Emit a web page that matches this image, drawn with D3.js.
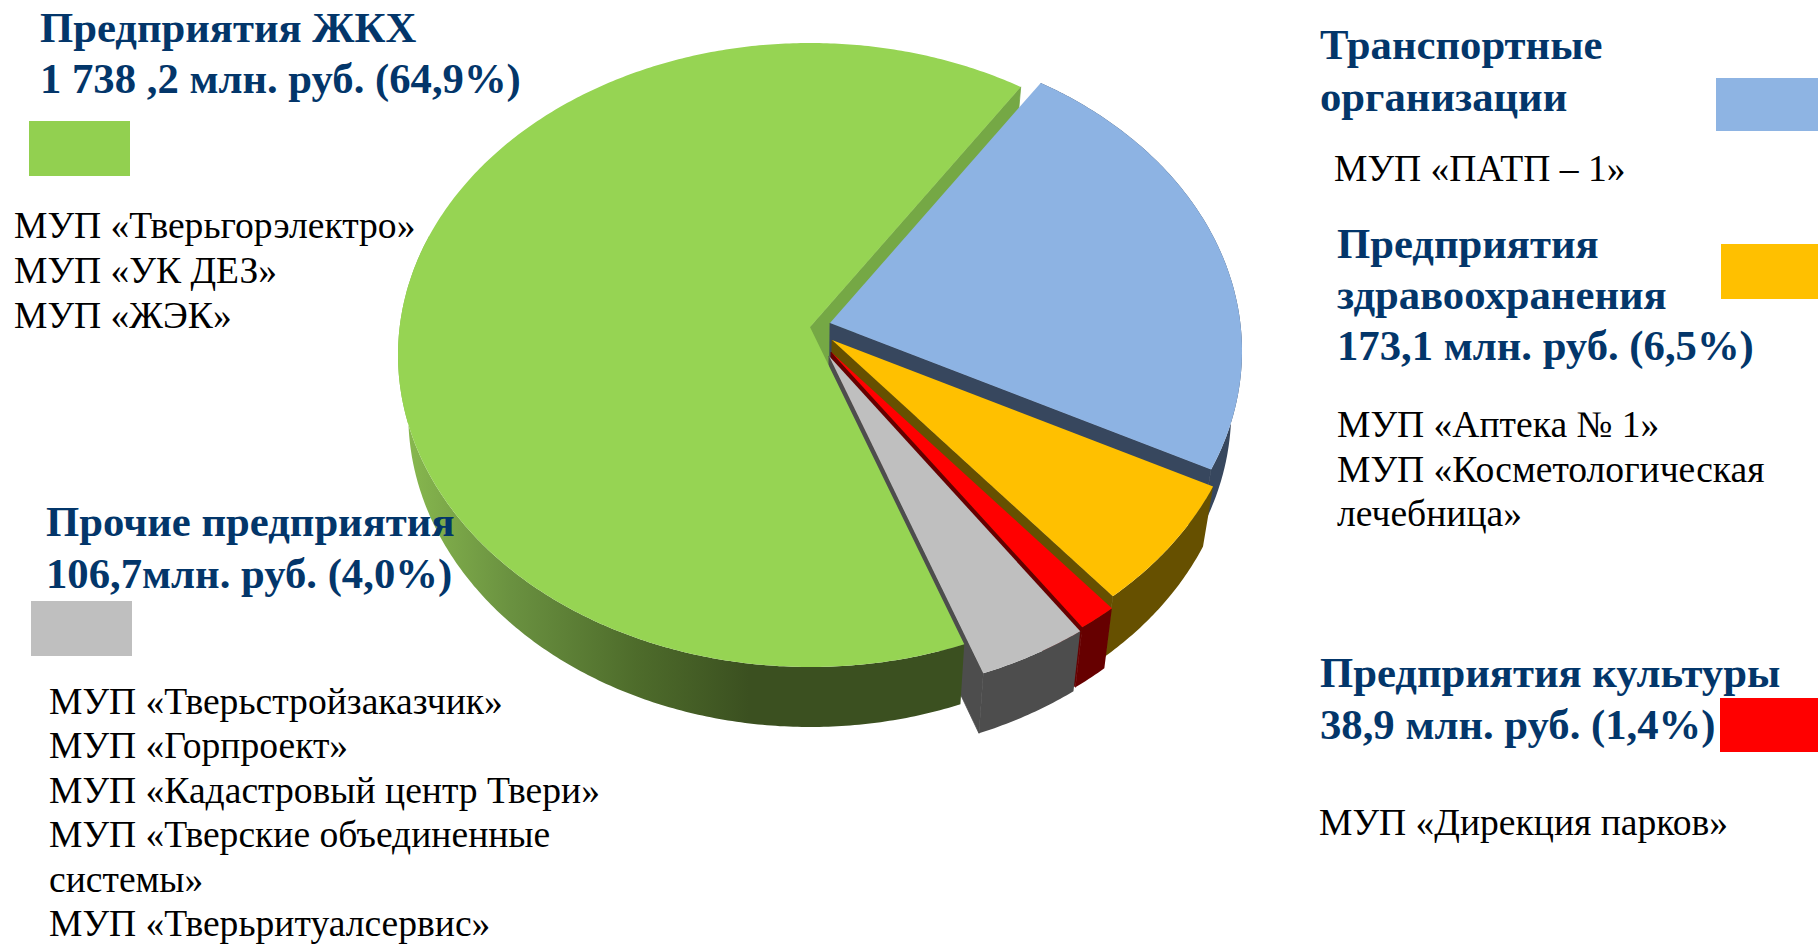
<!DOCTYPE html>
<meta charset="utf-8">
<style>
body { margin: 0; background: #fff; }
text { font-family: "Liberation Serif", serif; }
.head { font-weight: bold; fill: #03366a; font-size: 42.7px; }
.body { fill: #000; font-size: 37.6px; }
</style>
<body>
<script src="https://d3js.org/d3.v7.min.js"></script>
<script>

// shares in percent, read from the labels (transport has no label, it is the rest)
var categories = ["transport", "health", "culture", "other", "housing"];
var shares = [23.2, 6.5, 1.4, 4.0, 64.9];

var headings = [
  ["Предприятия ЖКХ", "1 738 ,2 млн. руб. (64,9%)"],
  ["Транспортные", "организации"],
  ["Предприятия", "здравоохранения", "173,1 млн. руб. (6,5%)"],
  ["Предприятия культуры", "38,9 млн. руб. (1,4%)"],
  ["Прочие предприятия", "106,7млн. руб. (4,0%)"]
];
var members = [
  ["МУП «Тверьгорэлектро»", "МУП «УК ДЕЗ»", "МУП «ЖЭК»"],
  ["МУП «ПАТП – 1»"],
  ["МУП «Аптека № 1»", "МУП «Косметологическая", "лечебница»"],
  ["МУП «Дирекция парков»"],
  ["МУП «Тверьстройзаказчик»", "МУП «Горпроект»", "МУП «Кадастровый центр Твери»",
   "МУП «Тверские объединенные", "системы»", "МУП «Тверьритуалсервис»"]
];

var width = 1818, height = 945;

// pie geometry: ellipse radii, perspective shift of the pie centre, wall depth
var rx = 412, ry = 312, persp = -28 / 312, depth = 60, narrow = 0.975, axisX = 810;
var startDeg = 33.5;

// each slice is pulled out on its own, so it has its own ellipse centre
var sliceLook = {
  transport: {cx: 830, cy: 351, top: "#8db3e3", wall: "#37475e"},
  health:    {cx: 832, cy: 368, top: "#ffc000", wall: "#665000"},
  culture:   {cx: 831, cy: 380, top: "#ff0000", wall: "#660000"},
  other:     {cx: 829, cy: 384, top: "#bfbfbf", wall: "#4d4d4d"},
  housing:   {cx: 810, cy: 355, top: "#96d453", wall: "url(#greenWall)", side: "#75a845"}
};

var headBlocks = [
  {x: 40, y: 42, dy: 51, swatch: [29, 121, 101, 55], color: "#92d050"},
  {x: 1320, y: 59, dy: 52, swatch: [1716, 78, 102, 53], color: "#8eb4e3"},
  {x: 1337, y: 258, dy: 51, swatch: [1721, 244, 97, 55], color: "#ffc000"},
  {x: 1320, y: 687, dy: 52, swatch: [1720, 698, 98, 54], color: "#ff0000"},
  {x: 46, y: 536, dy: 51.5, swatch: [31, 601, 101, 55], color: "#bfbfbf"}
];
var bodyBlocks = [
  {x: 14, y: 238, dy: 45},
  {x: 1334, y: 181, dy: 45},
  {x: 1337, y: 437, dy: 44.5},
  {x: 1319, y: 835, dy: 45},
  {x: 49, y: 714, dy: 44.4}
];

var svg = d3.select("body").append("svg")
    .attr("width", width)
    .attr("height", height);

var defs = svg.append("defs");
var grad = defs.append("linearGradient")
    .attr("id", "greenWall")
    .attr("gradientUnits", "userSpaceOnUse")
    .attr("x1", 398).attr("x2", 964).attr("y1", 0).attr("y2", 0);
[[0, "#8abb50"], [0.2, "#6a9140"], [0.42, "#4e6c2b"], [0.62, "#3b5020"], [1, "#3b5020"]].forEach(function(s) {
  grad.append("stop").attr("offset", s[0]).attr("stop-color", s[1]);
});

var pie = d3.pie().sort(null)
    .startAngle(startDeg * Math.PI / 180)
    .endAngle(startDeg * Math.PI / 180 + 2 * Math.PI);
var slices = pie(shares);
slices.forEach(function(d, i) { d.key = categories[i]; d.look = sliceLook[categories[i]]; });
var byKey = {};
slices.forEach(function(d) { byKey[d.key] = d; });

// point of the pie plane at angle a and radius r, seen in perspective
function project(look, a, r) {
  var px = Math.sin(a) * r, py = -Math.cos(a) * r;
  var w = 1 + py * persp;
  var v = (py + persp) / w;
  var u = px * Math.sqrt(1 - persp * persp) / w;
  return [look.cx + rx * u, look.cy + ry * v];
}

// same point on the bottom of the pie
function lower(p) {
  return [axisX + (p[0] - axisX) * narrow, p[1] + depth];
}

function arcAngles(d) {
  var n = Math.ceil((d.endAngle - d.startAngle) / 0.01);
  return d3.range(n + 1).map(function(i) {
    return d.startAngle + (d.endAngle - d.startAngle) * i / n;
  });
}

function arcPoints(d) {
  return arcAngles(d).map(function(a) { return project(d.look, a, 1); });
}

var line = d3.line();

var parts = {
  face: function(d) { return line([project(d.look, 0, 0)].concat(arcPoints(d))) + "Z"; },
  outer: function(d) {
    // the far side of the rim is never seen
    var pts = arcAngles(d)
        .filter(function(a) { return a < 1.6 * Math.PI; })
        .map(function(a) { return project(d.look, a, 1); });
    return line(pts.concat(pts.map(lower).reverse())) + "Z";
  },
  end: function(d) {
    var c = project(d.look, 0, 0), e = project(d.look, d.endAngle, 1);
    return line([c, e, lower(e), lower(c)]) + "Z";
  }
};

// back to front: walls first, the faces go over all of them
var layers = [
  ["housing", "end"],
  ["transport", "outer"], ["transport", "end"],
  ["health", "outer"], ["health", "end"],
  ["culture", "outer"], ["culture", "end"],
  ["other", "end"], ["other", "outer"], ["housing", "outer"],
  ["housing", "face"], ["transport", "face"], ["health", "face"], ["culture", "face"], ["other", "face"]
];

function partColor(l) {
  var look = byKey[l[0]].look;
  if (l[1] == "face") return look.top;
  if (l[1] == "end" && look.side) return look.side;
  return look.wall;
}

svg.append("g").selectAll("path")
    .data(layers)
  .enter().append("path")
    .attr("d", function(l) { return parts[l[1]](byKey[l[0]]); })
    .attr("fill", partColor)
    .attr("stroke", function(l) { return l[1] == "end" ? partColor(l) : "none"; })
    .attr("stroke-width", 0.8);

// legend swatches and captions
svg.append("g").selectAll("rect")
    .data(headBlocks)
  .enter().append("rect")
    .attr("x", function(d) { return d.swatch[0]; })
    .attr("y", function(d) { return d.swatch[1]; })
    .attr("width", function(d) { return d.swatch[2]; })
    .attr("height", function(d) { return d.swatch[3]; })
    .attr("fill", function(d) { return d.color; });

function textBlock(blocks, lines, cls) {
  blocks.forEach(function(b, i) {
    svg.append("g").selectAll("text")
        .data(lines[i])
      .enter().append("text")
        .attr("class", cls)
        .attr("x", b.x)
        .attr("y", function(d, j) { return b.y + j * b.dy; })
        .text(function(d) { return d; });
  });
}
textBlock(headBlocks, headings, "head");
textBlock(bodyBlocks, members, "body");

</script>
</body>
